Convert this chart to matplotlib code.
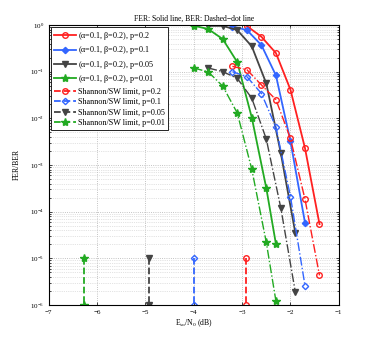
import numpy as np
import matplotlib
matplotlib.use("Agg")
import matplotlib.pyplot as plt
from matplotlib.ticker import LogLocator, NullFormatter

plt.rcParams['font.family'] = ['Liberation Serif', 'DejaVu Serif']
plt.rcParams['mathtext.fontset'] = 'custom'
plt.rcParams['mathtext.rm'] = 'Liberation Serif'
plt.rcParams['mathtext.it'] = 'Liberation Serif'

# ---- data ----
x_red = [-3.2, -2.9, -2.6, -2.3, -2.0, -1.7, -1.4]
fer_red = [None, 0.95, 0.56, 0.25, 0.041, 2.3e-3, 5.4e-5]
ber_red = [0.13, 0.11, 0.052, 0.025, 3.7e-3, 1.85e-4, 4.3e-6]

x_blue = [-3.2, -2.9, -2.6, -2.3, -2.0, -1.7]
fer_blue = [0.93, 0.78, 0.37, 0.083, 3.2e-3, 5.8e-5]
ber_blue = [0.10, 0.078, 0.034, 6.4e-3, 2.1e-4, 2.6e-6]

x_black = [-3.7, -3.4, -3.1, -2.8, -2.5, -2.2, -1.9]
fer_black = [0.96, 0.96, 0.78, 0.35, 0.056, 1.8e-3, 3.5e-5]
ber_black = [0.12, 0.10, 0.072, 0.027, 3.6e-3, 1.2e-4, 1.9e-6]

x_green = [-4.0, -3.7, -3.4, -3.1, -2.8, -2.5, -2.3]
fer_green = [0.97, 0.82, 0.50, 0.16, 0.0104, 3.2e-4, 2.0e-5]
ber_green = [0.12, 0.099, 0.049, 0.013, 8.1e-4, 2.2e-5, 1.2e-6]

shannon_x = [-2.91, -4.0, -4.93, -6.26]
shannon_y = [1e-5, 1e-6]

p_labels = ['0.2', '0.1', '0.05', '0.01']
colors = ['#ff2020', '#3366ff', '#444444', '#22aa22']
markers = ['o', 'D', 'v', '*']
msizes = [4, 3.2, 4, 6]

fig = plt.figure(figsize=(3.74, 3.43), dpi=100)
ax = fig.add_axes([0.130, 0.111, 0.776, 0.816])

xs = [x_red, x_blue, x_black, x_green]
fers = [fer_red, fer_blue, fer_black, fer_green]
bers = [ber_red, ber_blue, ber_black, ber_green]

handles_fer = []
for xx, ff, c, m, ms, p in zip(xs, fers, colors, markers, msizes, p_labels):
    pts = [(a, b) for a, b in zip(xx, ff) if b is not None]
    h, = ax.plot([a for a, b in pts], [b for a, b in pts], '-', color=c, marker=m,
                 ms=ms, lw=1.3, mfc=c if m in ('v', '*', 'D') else 'none', mec=c, mew=1.0,
                 label=r'($\alpha$=0.1, $\beta$=0.2), p=' + p)
    handles_fer.append(h)

for xx, bb, c, m, ms in zip(xs, bers, colors, markers, msizes):
    ax.plot(xx, bb, '-.', color=c, marker=m, ms=ms, lw=1.0,
            mfc='none' if m in ('o', 'D') else c, mec=c, mew=1.0)

handles_sh = []
for sx, c, m, ms, p in zip(shannon_x, colors, markers, msizes, p_labels):
    h, = ax.plot([sx, sx], shannon_y, '--', color=c, marker=m, ms=ms, lw=1.3,
                 mfc='none' if m in ('o', 'D') else c, mec=c, mew=1.0,
                 label='Shannon/SW limit, p=' + p)
    handles_sh.append(h)

ax.set_yscale('log')
ax.set_xlim(-7, -1)
ax.set_ylim(1e-6, 1)
ax.set_xticks([-7, -6, -5, -4, -3, -2, -1])
ax.set_xticklabels(['\u22127', '\u22126', '\u22125', '\u22124', '\u22123', '\u22122', '\u22121'])
ax.yaxis.set_major_locator(LogLocator(base=10, numticks=10))
ax.yaxis.set_minor_locator(LogLocator(base=10, subs=np.arange(2, 10), numticks=10))
ax.yaxis.set_minor_formatter(NullFormatter())
ax.grid(True, which='major', linestyle=':', color='#b0b0b0', lw=0.6)
ax.grid(True, which='minor', axis='y', linestyle=':', color='#c8c8c8', lw=0.5)
ax.tick_params(which='both', direction='in', top=True, right=True, labelsize=5, length=2.5, width=0.5)
ax.tick_params(which='minor', length=1.5)
for s in ax.spines.values():
    s.set_linewidth(0.8)

ax.set_title('FER: Solid line, BER: Dashed\u2212dot line', fontsize=5.5, pad=3)
ax.set_ylabel('FER/BER', fontsize=5.5, labelpad=6)
ax.set_xlabel(r'E$_{so}$/N$_0$ (dB)', fontsize=5.5, labelpad=2)

leg = ax.legend(handles=handles_fer + handles_sh, loc='upper left', fontsize=5.9,
                frameon=True, fancybox=False, edgecolor='black', framealpha=1,
                borderpad=0.35, labelspacing=0.3, handlelength=2.7, handletextpad=0.3,
                borderaxespad=0.25)
leg.get_frame().set_linewidth(0.6)

fig.savefig('out.png', dpi=100)
